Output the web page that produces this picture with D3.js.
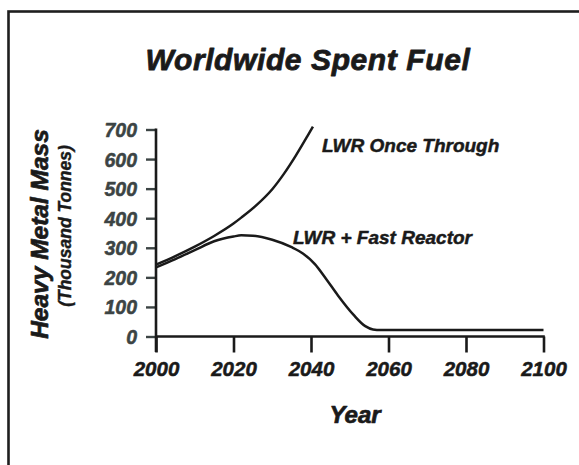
<!DOCTYPE html>
<html>
<head>
<meta charset="utf-8">
<script src="https://cdn.jsdelivr.net/npm/d3@7"></script>
<style>
  html, body { margin: 0; padding: 0; background: #fff; }
  svg { display: block; }
  text { font-family: "Liberation Sans", Arial, Helvetica, sans-serif; font-weight: bold; font-style: italic; }
</style>
</head>
<body>
<svg id="chart" width="579" height="465"></svg>
<script>
// ---- Data ----
const xTicks = [2000, 2020, 2040, 2060, 2080, 2100];
const yTicks = [0, 100, 200, 300, 400, 500, 600, 700];

const onceYears  = [2000, 2005, 2010, 2015, 2020, 2022, 2026, 2030, 2033, 2036, 2039, 2040.5];
const onceValues = [243, 272, 304, 340, 382, 402, 445, 498, 550, 610, 676, 710];

const fastYears  = [2000, 2005, 2010, 2015, 2020, 2022, 2025, 2030, 2035, 2038, 2041, 2044, 2047, 2051, 2054, 2056, 2058, 2100];
const fastValues = [234, 262, 292, 322, 338, 342, 341, 327, 302, 280, 245, 193, 138, 73, 35, 24, 22, 22];

const seriesNames = ["LWR Once Through", "LWR + Fast Reactor"];

// ---- Layout ----
const svg = d3.select("#chart");
const x = d3.scaleLinear().domain([2000, 2100]).range([156, 543.5]);
const y = d3.scaleLinear().domain([0, 700]).range([336.5, 129.5]);

function heavy(sel, color, w) {
  return sel.attr("stroke", color).attr("stroke-width", w).attr("stroke-linejoin", "round");
}

// frame
svg.append("rect")
  .attr("x", 8.5).attr("y", 11.5).attr("width", 620).attr("height", 520)
  .attr("fill", "none").attr("stroke", "#1e1e1e").attr("stroke-width", 2.6);

// title
heavy(svg.append("text")
  .attr("x", 308).attr("y", 69.5)
  .attr("text-anchor", "middle")
  .attr("font-size", 30)
  .attr("letter-spacing", 0.6)
  .attr("fill", "#1a1a1a")
  .text("Worldwide Spent Fuel"), "#1a1a1a", 0.8);

// y axis
const yAxis = d3.axisLeft(y).tickValues(yTicks).tickSize(10).tickPadding(9).tickFormat(d3.format("d"));
const gy = svg.append("g").attr("transform", "translate(156,0)").call(yAxis);
gy.select(".domain").remove();
gy.selectAll(".tick line").attr("stroke", "#3c4444").attr("stroke-width", 2.4);
heavy(gy.selectAll(".tick text")
  .attr("font-size", 19.5)
  .attr("font-family", "Liberation Sans, Arial, sans-serif")
  .attr("fill", "#3c4444")
  .attr("dy", "0.36em"), "#3c4444", 0.5);
svg.append("line")
  .attr("x1", 156).attr("x2", 156)
  .attr("y1", y(700) - 1).attr("y2", 352)
  .attr("stroke", "#1a1a1a").attr("stroke-width", 2.6);

// x axis
const xAxis = d3.axisBottom(x).tickValues(xTicks).tickSize(16).tickPadding(5).tickFormat(d3.format("d"));
const gx = svg.append("g").attr("transform", `translate(0,${y(0)})`).call(xAxis);
gx.select(".domain").remove();
gx.selectAll(".tick line").attr("stroke", "#1a1a1a").attr("stroke-width", 2.6);
heavy(gx.selectAll(".tick text")
  .attr("font-size", 20.5)
  .attr("font-family", "Liberation Sans, Arial, sans-serif")
  .attr("fill", "#1a1a1a")
  .attr("dy", "0.92em"), "#1a1a1a", 0.5);
svg.append("line")
  .attr("x1", 155).attr("x2", x(2100) + 1.3)
  .attr("y1", y(0)).attr("y2", y(0))
  .attr("stroke", "#1a1a1a").attr("stroke-width", 2.6);

// lines
const line = d3.line()
  .x(d => x(d[0])).y(d => y(d[1]))
  .curve(d3.curveMonotoneX);

const onceData = onceYears.map((yr, i) => [yr, onceValues[i]]);
const fastData = fastYears.map((yr, i) => [yr, fastValues[i]]);

[onceData, fastData].forEach(data => {
  svg.append("path")
    .datum(data)
    .attr("d", line)
    .attr("fill", "none")
    .attr("stroke", "#1a1a1a")
    .attr("stroke-width", 2.5)
    .attr("stroke-linejoin", "round");
});

// series labels
heavy(svg.append("text").attr("x", 322).attr("y", 151.5)
  .attr("font-size", 19).attr("fill", "#1a1a1a").text(seriesNames[0]), "#1a1a1a", 0.5);
heavy(svg.append("text").attr("x", 293).attr("y", 244)
  .attr("font-size", 19).attr("fill", "#1a1a1a").text(seriesNames[1]), "#1a1a1a", 0.5);

// axis titles
heavy(svg.append("text")
  .attr("transform", "translate(48,234) rotate(-90)")
  .attr("text-anchor", "middle")
  .attr("font-size", 24.5)
  .attr("fill", "#1a1a1a")
  .text("Heavy Metal Mass"), "#1a1a1a", 0.7);
heavy(svg.append("text")
  .attr("transform", "translate(70.5,226) rotate(-90)")
  .attr("text-anchor", "middle")
  .attr("font-size", 17.5)
  .attr("fill", "#1a1a1a")
  .text("(Thousand Tonnes)"), "#1a1a1a", 0.4);

heavy(svg.append("text")
  .attr("x", 355).attr("y", 423)
  .attr("text-anchor", "middle")
  .attr("font-size", 24)
  .attr("fill", "#1a1a1a")
  .text("Year"), "#1a1a1a", 0.7);
</script>
</body>
</html>
